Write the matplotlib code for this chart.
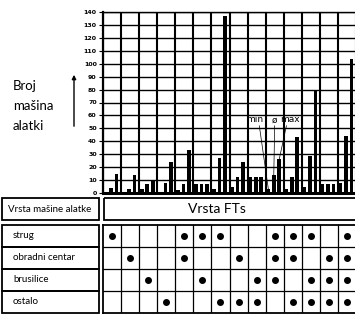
import numpy as np
import matplotlib.pyplot as plt
from matplotlib.patches import Rectangle

plt.rcParams["font.family"] = ["Lato", "DejaVu Sans"]

# bar values per tool column: min, average (ø), max
min_vals = [1, 1, 3, 1, 2, 7, 3, 5, 12, 3, 3, 5, 7, 8]
avg_vals = [4, 3, 7, 8, 7, 7, 27, 12, 12, 14, 12, 29, 7, 44]
max_vals = [15, 14, 10, 24, 33, 7, 137, 24, 12, 26, 43, 79, 7, 104]
y_ticks = list(range(0, 141, 10))

machine_types = ["strug", "obradni centar", "brusilice", "ostalo"]
# 0-based column indices marked with a dot for each machine type
strug_cols = [0, 4, 5, 6, 9, 10, 11, 13]
obradni_cols = [1, 4, 7, 9, 10, 12, 13]
brusilice_cols = [2, 5, 8, 9, 11, 12, 13]
ostalo_cols = [3, 6, 7, 8, 10, 11, 12, 13]
dot_cols = [strug_cols, obradni_cols, brusilice_cols, ostalo_cols]

W, H = 355, 314
n_cols = len(max_vals)


def fig_box(x0, y0, x1, y1):
    # pixel box (top-left origin) -> figure fraction rect
    return [x0 / W, 1 - y1 / H, (x1 - x0) / W, (y1 - y0) / H]


fig = plt.figure(figsize=(W / 100, H / 100), dpi=100)

# overlay in pixel coordinates for labels and left boxes
ov = fig.add_axes([0, 0, 1, 1], zorder=0)
ov.set_xlim(0, W)
ov.set_ylim(H, 0)
ov.axis("off")

# bar chart
ax = fig.add_axes(fig_box(103, 12, 356, 193), zorder=2)
ax.patch.set_alpha(0)
x = np.arange(n_cols)
bw = 0.2
ax.bar(x + 0.15, min_vals, width=bw, color="black", zorder=3)
ax.bar(x + 0.45, avg_vals, width=bw, color="black", zorder=3)
ax.bar(x + 0.75, max_vals, width=bw, color="black", zorder=3)
ax.set_xlim(0, n_cols)
ax.set_ylim(0, 140)
ax.set_xticks(np.arange(0, n_cols + 1))
ax.set_yticks(y_ticks)
ax.set_xticklabels([])
ax.set_yticklabels([str(v) for v in y_ticks], fontsize=4.5, fontweight="bold", family="DejaVu Sans")
ax.tick_params(axis="x", length=0)
ax.tick_params(axis="y", length=3, width=0.8, pad=1.5)
ax.grid(axis="x", color="black", lw=1.5)
ax.grid(axis="y", color="black", lw=1.0)
ax.set_axisbelow(True)
ax.spines["right"].set_visible(False)
ax.spines["top"].set_linewidth(1.0)
ax.spines["left"].set_linewidth(1.6)
ax.spines["bottom"].set_linewidth(2.2)

# min / ø / max annotation on column 10
k = 9
ann_y = 53
ax.text(k - 0.58, ann_y, "min", fontsize=6.5, ha="center", va="bottom", family="DejaVu Sans")
ax.text(k + 0.5, ann_y, "ø", fontsize=6.5, ha="center", va="bottom", family="DejaVu Sans")
ax.text(k + 1.33, ann_y, "max", fontsize=6.5, ha="center", va="bottom", family="DejaVu Sans")
for tx, bx, by in [(k - 0.35, k + 0.15, min_vals[k]),
                   (k + 0.5, k + 0.45, avg_vals[k]),
                   (k + 1.15, k + 0.75, max_vals[k])]:
    ax.plot([tx, bx], [ann_y - 1, by], color="black", lw=0.5, zorder=4)

# y label with arrow
ov.text(13, 86, "Broj", fontsize=9.5, ha="left", va="center")
ov.text(13, 106, "mašina", fontsize=9.5, ha="left", va="center")
ov.text(13, 126, "alatki", fontsize=9.5, ha="left", va="center")
ov.annotate("", xy=(74, 72), xytext=(74, 129),
            arrowprops=dict(arrowstyle="-|>", color="black", lw=1.0, mutation_scale=6))

# header row
ov.add_patch(Rectangle((2, 198), 97, 22, fill=False, lw=1.3, ec="black"))
ov.text(50, 209, "Vrsta mašine alatke", fontsize=7, ha="center", va="center")
ov.add_patch(Rectangle((104, 198), 260, 22, fill=False, lw=1.3, ec="black"))
ov.text(217, 209, "Vrsta FTs", fontsize=10, ha="center", va="center")

# left row labels
row_h = 22
for i, name in enumerate(machine_types):
    y0 = 225 + i * row_h
    ov.add_patch(Rectangle((2, y0), 97, row_h, fill=False, lw=1.3, ec="black"))
    ov.text(13, y0 + row_h / 2, name, fontsize=7, ha="left", va="center")

# dot table aligned with the bar columns
tb = fig.add_axes(fig_box(103, 225, 356, 313), zorder=2)
tb.set_xlim(0, n_cols)
tb.set_ylim(len(machine_types), 0)
tb.set_xticks([])
tb.set_yticks([])
tb.patch.set_alpha(0)
for c in range(1, n_cols):
    tb.axvline(c, color="black", lw=0.9)
for r in range(1, len(machine_types)):
    tb.axhline(r, color="black", lw=0.9)
for i, cols in enumerate(dot_cols):
    cols = np.array(cols)
    tb.plot(cols + 0.5, np.full(len(cols), i + 0.5), "o", color="black", ms=4)
for side in ["left", "bottom", "top"]:
    tb.spines[side].set_linewidth(1.3)
tb.spines["right"].set_visible(False)

fig.savefig("out.png", dpi=100)
